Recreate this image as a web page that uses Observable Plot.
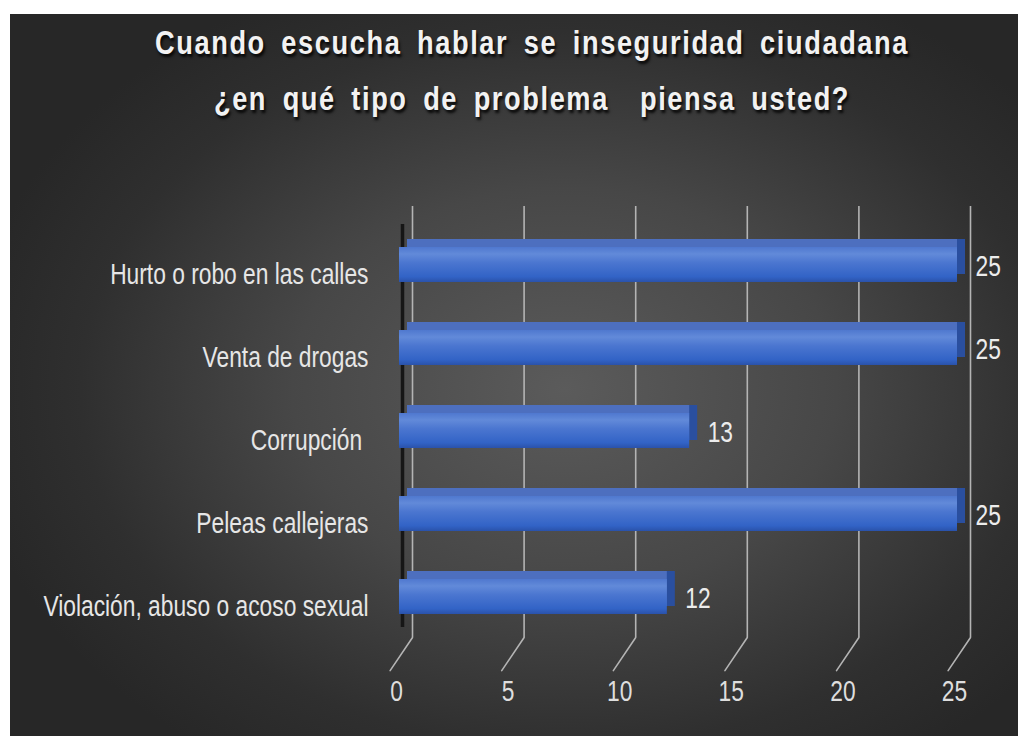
<!DOCTYPE html>
<html>
<head>
<meta charset="utf-8">
<script src="https://cdn.jsdelivr.net/npm/d3@7"></script>
<script src="https://cdn.jsdelivr.net/npm/@observablehq/plot@0.6"></script>
<style>
  html, body { margin: 0; padding: 0; background: #ffffff; }
  body { width: 1018px; height: 736px; overflow: hidden; position: relative; }
  #panel {
    position: absolute; left: 10px; top: 14px; width: 1008px; height: 722px;
    background: radial-gradient(ellipse 60% 62% at 55% 52%, #5b5b5b 0%, #474747 45%, #2f2f2f 80%, #272727 100%);
    overflow: hidden;
  }
  #title {
    position: absolute; top: 0px; left: 0; width: 1008px; box-sizing: border-box; padding-left: 36px;
    text-align: center; color: #f2f2f2;
    font-family: "Liberation Sans", Arial, sans-serif;
    font-weight: bold; font-size: 34px; line-height: 56px; letter-spacing: 2px; word-spacing: 8px;
    text-shadow: 2px 3px 3px rgba(0,0,0,0.85);
    white-space: pre;
    transform: scaleX(0.8); transform-origin: 522px 0;
  }
  #chart { position: absolute; left: 0; top: 150px; }
  #chart svg { overflow: visible; }
</style>
</head>
<body>
<svg width="0" height="0" style="position:absolute">
  <defs>
    <linearGradient id="front" x1="0" y1="0" x2="0" y2="1">
      <stop offset="0" stop-color="#4f78cf"/>
      <stop offset="0.2" stop-color="#628ad9"/>
      <stop offset="0.45" stop-color="#4b76d0"/>
      <stop offset="0.85" stop-color="#3263c6"/>
      <stop offset="1" stop-color="#2a52aa"/>
    </linearGradient>
  </defs>
</svg>
<div id="panel">
  <div id="title">Cuando escucha hablar se inseguridad ciudadana
¿en qué tipo de problema  piensa usted?</div>
  <div id="chart"></div>
</div>
<script>
const categories = [
  "Hurto o robo en las calles",
  "Venta de drogas",
  "Corrupción ",
  "Peleas callejeras",
  "Violación, abuso o acoso sexual"
];
const values = [25, 25, 13, 25, 12];
const xTicks = [0, 5, 10, 15, 20, 25];

const data = categories.map((c, i) => ({cat: c, value: values[i]}));
const font = "'Liberation Sans', Arial, sans-serif";
const depth = 8;
const back = 13;
const narrow = 0.76;

const plot = Plot.plot({
  width: 1008,
  height: 572,
  marginLeft: 389,
  marginRight: 61,
  marginTop: 42,
  marginBottom: 99,
  style: {background: "transparent", fontFamily: font, overflow: "visible"},
  x: {domain: [0, 25], axis: null},
  y: {domain: categories, range: [59, 474], paddingInner: 0.58, paddingOuter: 0.29, axis: null},
  marks: [
    // back-wall gridlines
    Plot.ruleX(xTicks, {x: d => d, dx: back, stroke: "#b4b4b4", strokeWidth: 1.6}),
    // floor lines slanting to the front
    Plot.vector(xTicks, {
      x: d => d, frameAnchor: "bottom", dx: back, anchor: "start",
      length: 40, rotate: 214, stroke: "#b4b4b4", strokeWidth: 1.6,
      shape: {draw(ctx, l) { ctx.moveTo(0, 0); ctx.lineTo(0, -l); }}
    }),
    // dark left wall edge
    Plot.ruleX([0], {x: d => d, dx: 3, stroke: "#161616", strokeWidth: 3.5, insetTop: 18, insetBottom: 10}),
    // bar right face (darker) and top face (lighter)
    Plot.barX(data, {x: "value", y: "cat", dx: depth, dy: -depth, fill: "#2a4f9f"}),
    Plot.barX(data, {x: "value", y: "cat", dx: depth, dy: -depth, insetRight: depth, fill: "#4d6fbf"}),
    // bar front face
    Plot.barX(data, {x: "value", y: "cat", fill: "url(#front)"}),
    // value labels
    Plot.text(data, {
      x: "value", y: "cat", text: d => String(d.value), textAnchor: "start", dx: 18, dy: 1,
      fill: "#ececec", fontSize: 30
    }),
    // category labels
    Plot.text(data, {
      y: "cat", frameAnchor: "left", text: "cat", textAnchor: "end", dx: -31, dy: 9,
      fill: "#e6e6e6", fontSize: 30
    }),
    // x tick labels
    Plot.text(xTicks, {
      x: d => d, frameAnchor: "bottom", text: d => String(d), dy: 63, dx: -3,
      fill: "#dedede", fontSize: 30
    })
  ]
});

// narrow (condensed) lettering like the original's tall, narrow type
plot.querySelectorAll("text").forEach(t => {
  const tr = t.getAttribute("transform");
  if (tr) {
    t.setAttribute("transform", tr + ` scale(${narrow},1)`);
  } else {
    const x = +(t.getAttribute("x") || 0);
    t.setAttribute("transform", `translate(${x},0) scale(${narrow},1) translate(${-x},0)`);
  }
});
document.getElementById("chart").appendChild(plot);
</script>
</body>
</html>
